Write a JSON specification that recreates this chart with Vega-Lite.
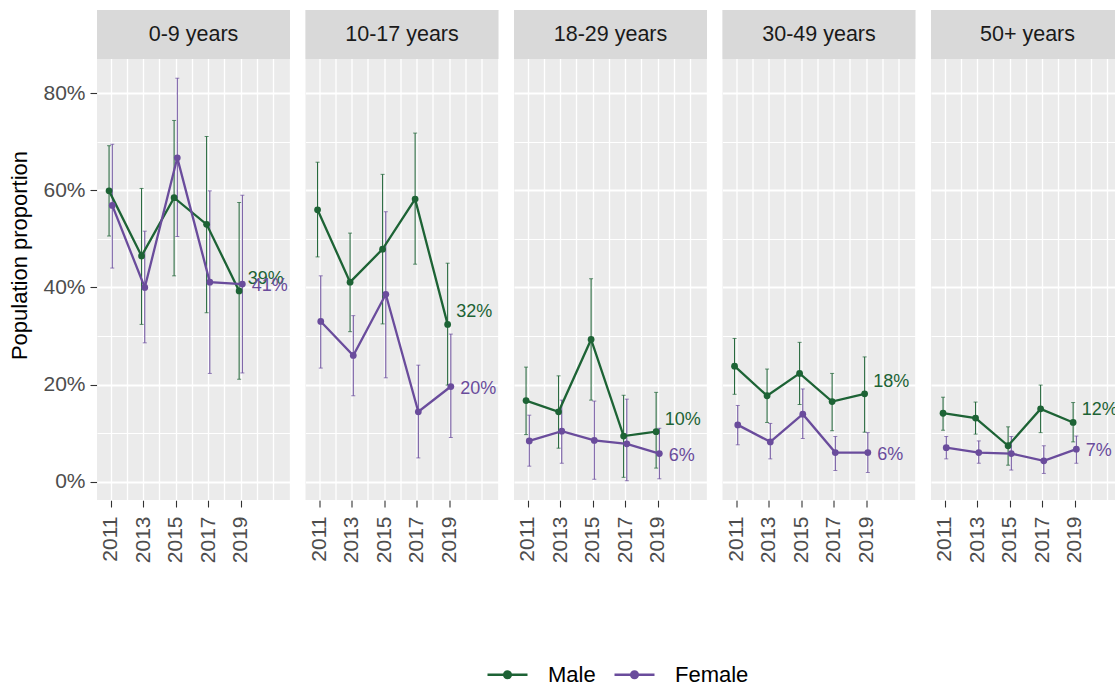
{
  "$schema": "https://vega.github.io/schema/vega-lite/v6.json",
  "padding": {"left": 8, "top": 10, "right": -9, "bottom": 0},
  "config": {
    "font": "Liberation Sans",
    "view": {"fill": "#EBEBEB", "stroke": null},
    "axis": {
      "domain": false,
      "grid": true,
      "labelFont": "Liberation Sans",
      "labelFontSize": 21,
      "labelColor": "#4D4D4D",
      "tickColor": "#333333",
      "tickSize": 7,
      "tickWidth": 1.1,
      "gridColor": "#FFFFFF",
      "titleFont": "Liberation Sans",
      "titleFontSize": 22,
      "titleFontWeight": "normal",
      "titleColor": "#000000"
    },
    "legend": {
      "labelFont": "Liberation Sans",
      "labelFontSize": 22,
      "labelColor": "#000000"
    }
  },
  "data": {
    "values": [
      {"group": "0-9 years", "sex": "Male", "year": 2011, "value": 0.599, "lo": 0.506, "hi": 0.692},
      {"group": "0-9 years", "sex": "Male", "year": 2013, "value": 0.465, "lo": 0.324, "hi": 0.604},
      {"group": "0-9 years", "sex": "Male", "year": 2015, "value": 0.585, "lo": 0.424, "hi": 0.744},
      {"group": "0-9 years", "sex": "Male", "year": 2017, "value": 0.530, "lo": 0.348, "hi": 0.711},
      {"group": "0-9 years", "sex": "Male", "year": 2019, "value": 0.393, "lo": 0.211, "hi": 0.575},
      {"group": "0-9 years", "sex": "Female", "year": 2011, "value": 0.569, "lo": 0.440, "hi": 0.695},
      {"group": "0-9 years", "sex": "Female", "year": 2013, "value": 0.400, "lo": 0.286, "hi": 0.516},
      {"group": "0-9 years", "sex": "Female", "year": 2015, "value": 0.667, "lo": 0.505, "hi": 0.831},
      {"group": "0-9 years", "sex": "Female", "year": 2017, "value": 0.411, "lo": 0.223, "hi": 0.599},
      {"group": "0-9 years", "sex": "Female", "year": 2019, "value": 0.407, "lo": 0.224, "hi": 0.590},
      {"group": "10-17 years", "sex": "Male", "year": 2011, "value": 0.560, "lo": 0.463, "hi": 0.658},
      {"group": "10-17 years", "sex": "Male", "year": 2013, "value": 0.411, "lo": 0.309, "hi": 0.512},
      {"group": "10-17 years", "sex": "Male", "year": 2015, "value": 0.479, "lo": 0.325, "hi": 0.633},
      {"group": "10-17 years", "sex": "Male", "year": 2017, "value": 0.582, "lo": 0.448, "hi": 0.718},
      {"group": "10-17 years", "sex": "Male", "year": 2019, "value": 0.324, "lo": 0.199, "hi": 0.450},
      {"group": "10-17 years", "sex": "Female", "year": 2011, "value": 0.330, "lo": 0.234, "hi": 0.424},
      {"group": "10-17 years", "sex": "Female", "year": 2013, "value": 0.260, "lo": 0.177, "hi": 0.342},
      {"group": "10-17 years", "sex": "Female", "year": 2015, "value": 0.386, "lo": 0.214, "hi": 0.556},
      {"group": "10-17 years", "sex": "Female", "year": 2017, "value": 0.144, "lo": 0.049, "hi": 0.240},
      {"group": "10-17 years", "sex": "Female", "year": 2019, "value": 0.196, "lo": 0.091, "hi": 0.304},
      {"group": "18-29 years", "sex": "Male", "year": 2011, "value": 0.167, "lo": 0.097, "hi": 0.236},
      {"group": "18-29 years", "sex": "Male", "year": 2013, "value": 0.144, "lo": 0.069, "hi": 0.218},
      {"group": "18-29 years", "sex": "Male", "year": 2015, "value": 0.293, "lo": 0.168, "hi": 0.418},
      {"group": "18-29 years", "sex": "Male", "year": 2017, "value": 0.094, "lo": 0.009, "hi": 0.178},
      {"group": "18-29 years", "sex": "Male", "year": 2019, "value": 0.103, "lo": 0.028, "hi": 0.184},
      {"group": "18-29 years", "sex": "Female", "year": 2011, "value": 0.084, "lo": 0.032, "hi": 0.137},
      {"group": "18-29 years", "sex": "Female", "year": 2013, "value": 0.104, "lo": 0.038, "hi": 0.168},
      {"group": "18-29 years", "sex": "Female", "year": 2015, "value": 0.085, "lo": 0.005, "hi": 0.166},
      {"group": "18-29 years", "sex": "Female", "year": 2017, "value": 0.078, "lo": 0.002, "hi": 0.170},
      {"group": "18-29 years", "sex": "Female", "year": 2019, "value": 0.058, "lo": 0.006, "hi": 0.110},
      {"group": "30-49 years", "sex": "Male", "year": 2011, "value": 0.238, "lo": 0.180, "hi": 0.295},
      {"group": "30-49 years", "sex": "Male", "year": 2013, "value": 0.177, "lo": 0.122, "hi": 0.232},
      {"group": "30-49 years", "sex": "Male", "year": 2015, "value": 0.223, "lo": 0.159, "hi": 0.287},
      {"group": "30-49 years", "sex": "Male", "year": 2017, "value": 0.165, "lo": 0.105, "hi": 0.223},
      {"group": "30-49 years", "sex": "Male", "year": 2019, "value": 0.181, "lo": 0.102, "hi": 0.257},
      {"group": "30-49 years", "sex": "Female", "year": 2011, "value": 0.117, "lo": 0.076, "hi": 0.157},
      {"group": "30-49 years", "sex": "Female", "year": 2013, "value": 0.082, "lo": 0.047, "hi": 0.120},
      {"group": "30-49 years", "sex": "Female", "year": 2015, "value": 0.139, "lo": 0.089, "hi": 0.191},
      {"group": "30-49 years", "sex": "Female", "year": 2017, "value": 0.060, "lo": 0.023, "hi": 0.093},
      {"group": "30-49 years", "sex": "Female", "year": 2019, "value": 0.060, "lo": 0.019, "hi": 0.101},
      {"group": "50+ years", "sex": "Male", "year": 2011, "value": 0.141, "lo": 0.106, "hi": 0.174},
      {"group": "50+ years", "sex": "Male", "year": 2013, "value": 0.131, "lo": 0.098, "hi": 0.164},
      {"group": "50+ years", "sex": "Male", "year": 2015, "value": 0.074, "lo": 0.034, "hi": 0.113},
      {"group": "50+ years", "sex": "Male", "year": 2017, "value": 0.150, "lo": 0.101, "hi": 0.199},
      {"group": "50+ years", "sex": "Male", "year": 2019, "value": 0.122, "lo": 0.082, "hi": 0.163},
      {"group": "50+ years", "sex": "Female", "year": 2011, "value": 0.070, "lo": 0.047, "hi": 0.093},
      {"group": "50+ years", "sex": "Female", "year": 2013, "value": 0.060, "lo": 0.038, "hi": 0.084},
      {"group": "50+ years", "sex": "Female", "year": 2015, "value": 0.058, "lo": 0.024, "hi": 0.093},
      {"group": "50+ years", "sex": "Female", "year": 2017, "value": 0.043, "lo": 0.017, "hi": 0.074},
      {"group": "50+ years", "sex": "Female", "year": 2019, "value": 0.067, "lo": 0.038, "hi": 0.094}
    ]
  },
  "facet": {
    "column": {
      "field": "group",
      "type": "nominal",
      "sort": ["0-9 years", "10-17 years", "18-29 years", "30-49 years", "50+ years"],
      "header": {"title": null, "labels": false}
    }
  },
  "spacing": 15.5,
  "spec": {
    "width": 193,
    "height": 490,
    "encoding": {
      "x": {
        "field": "year",
        "type": "quantitative",
        "scale": {"domain": [2010.16, 2022.03], "nice": false, "zero": false},
        "axis": {
          "title": null,
          "grid": true,
          "values": [2011, 2012, 2013, 2014, 2015, 2016, 2017, 2018, 2019, 2020, 2021, 2022],
          "labelExpr": "datum.value % 2 == 1 && datum.value <= 2019 ? datum.value + '' : ''",
          "labelAngle": -90,
          "labelPadding": 9,
          "labelFlush": false,
          "labelOverlap": false,
          "tickOpacity": {"condition": {"test": "datum.value % 2 == 1 && datum.value <= 2019", "value": 1}, "value": 0},
          "gridWidth": 1.3
        }
      },
      "y": {
        "type": "quantitative",
        "scale": {"domain": [-0.0377, 0.9715], "nice": false, "zero": false},
        "axis": {
          "title": "Population proportion",
          "grid": true,
          "values": [0, 0.1, 0.2, 0.3, 0.4, 0.5, 0.6, 0.7, 0.8],
          "labelExpr": "round(datum.value * 10) % 2 == 0 ? format(datum.value, '.0%') : ''",
          "labelPadding": 5,
          "labelOverlap": false,
          "titlePadding": 11,
          "tickOpacity": {"condition": {"test": "round(datum.value * 10) % 2 == 0", "value": 1}, "value": 0},
          "gridWidth": {"condition": {"test": "round(datum.value * 10) % 2 == 0", "value": 2}, "value": 1.1}
        }
      }
    },
    "layer": [
      {
        "transform": [{"filter": "datum.sex == 'Male' && datum.year == 2011"}],
        "mark": {"type": "rect", "color": "#D9D9D9"},
        "encoding": {
          "x": {"datum": 2010.16, "type": "quantitative"},
          "x2": {"datum": 2022.03},
          "y": {"datum": 0.8706, "type": "quantitative"},
          "y2": {"datum": 0.9715}
        }
      },
      {
        "transform": [{"filter": "datum.sex == 'Male' && datum.year == 2011"}],
        "mark": {"type": "text", "fontSize": 21.5, "color": "#1A1A1A", "baseline": "middle", "align": "center"},
        "encoding": {
          "x": {"datum": 2016.095, "type": "quantitative"},
          "y": {"datum": 0.921, "type": "quantitative"},
          "text": {"field": "group"}
        }
      },
      {
        "transform": [{"filter": "datum.sex == 'Male'"}],
        "mark": {"type": "rule", "color": "#1D6335", "strokeWidth": 1, "xOffset": -1.6},
        "encoding": {"x": {"field": "year", "type": "quantitative"}, "y": {"field": "lo", "type": "quantitative"}, "y2": {"field": "hi"}}
      },
      {
        "transform": [{"filter": "datum.sex == 'Male'"}],
        "mark": {"type": "tick", "orient": "horizontal", "color": "#1D6335", "size": 4, "thickness": 1, "xOffset": -1.6},
        "encoding": {"x": {"field": "year", "type": "quantitative"}, "y": {"field": "lo", "type": "quantitative"}}
      },
      {
        "transform": [{"filter": "datum.sex == 'Male'"}],
        "mark": {"type": "tick", "orient": "horizontal", "color": "#1D6335", "size": 4, "thickness": 1, "xOffset": -1.6},
        "encoding": {"x": {"field": "year", "type": "quantitative"}, "y": {"field": "hi", "type": "quantitative"}}
      },
      {
        "transform": [{"filter": "datum.sex == 'Female'"}],
        "mark": {"type": "rule", "color": "#6A4C9C", "strokeWidth": 1, "xOffset": 1.6},
        "encoding": {"x": {"field": "year", "type": "quantitative"}, "y": {"field": "lo", "type": "quantitative"}, "y2": {"field": "hi"}}
      },
      {
        "transform": [{"filter": "datum.sex == 'Female'"}],
        "mark": {"type": "tick", "orient": "horizontal", "color": "#6A4C9C", "size": 4, "thickness": 1, "xOffset": 1.6},
        "encoding": {"x": {"field": "year", "type": "quantitative"}, "y": {"field": "lo", "type": "quantitative"}}
      },
      {
        "transform": [{"filter": "datum.sex == 'Female'"}],
        "mark": {"type": "tick", "orient": "horizontal", "color": "#6A4C9C", "size": 4, "thickness": 1, "xOffset": 1.6},
        "encoding": {"x": {"field": "year", "type": "quantitative"}, "y": {"field": "hi", "type": "quantitative"}}
      },
      {
        "transform": [{"filter": "datum.sex == 'Male'"}],
        "mark": {"type": "line", "strokeWidth": 2.3, "xOffset": -1.6},
        "encoding": {
          "x": {"field": "year", "type": "quantitative"},
          "y": {"field": "value", "type": "quantitative"},
          "color": {
            "field": "sex", "type": "nominal",
            "scale": {"domain": ["Male", "Female"], "range": ["#1D6335", "#6A4C9C"]},
            "legend": {
              "title": null, "orient": "none", "direction": "horizontal",
              "legendX": 389, "legendY": 643,
              "symbolType": "M-1,0H1M-0.17,0A0.17,0.17,0,1,1,0.17,0A0.17,0.17,0,1,1,-0.17,0Z",
              "symbolSize": 1600, "symbolStrokeWidth": 2.3, "labelOffset": 19, "columnPadding": 13,
              "encode": {"symbols": {"update": {"fill": {"scale": "color", "field": "value"}, "stroke": {"scale": "color", "field": "value"}, "opacity": {"value": 1}}}}
            }
          }
        }
      },
      {
        "transform": [{"filter": "datum.sex == 'Female'"}],
        "mark": {"type": "line", "strokeWidth": 2.3, "xOffset": 1.6},
        "encoding": {
          "x": {"field": "year", "type": "quantitative"},
          "y": {"field": "value", "type": "quantitative"},
          "color": {"field": "sex", "type": "nominal"}
        }
      },
      {
        "transform": [{"filter": "datum.sex == 'Male'"}],
        "mark": {"type": "circle", "size": 46, "opacity": 1, "color": "#1D6335", "xOffset": -1.6},
        "encoding": {"x": {"field": "year", "type": "quantitative"}, "y": {"field": "value", "type": "quantitative"}}
      },
      {
        "transform": [{"filter": "datum.sex == 'Female'"}],
        "mark": {"type": "circle", "size": 46, "opacity": 1, "color": "#6A4C9C", "xOffset": 1.6},
        "encoding": {"x": {"field": "year", "type": "quantitative"}, "y": {"field": "value", "type": "quantitative"}}
      },
      {
        "transform": [{"filter": "datum.sex == 'Male' && datum.year == 2019"}],
        "mark": {"type": "text", "align": "left", "baseline": "middle", "dx": 7, "dy": -12, "fontSize": 18, "color": "#1D6335"},
        "encoding": {"x": {"field": "year", "type": "quantitative"}, "y": {"field": "value", "type": "quantitative"}, "text": {"field": "value", "type": "quantitative", "format": ".0%"}}
      },
      {
        "transform": [{"filter": "datum.sex == 'Female' && datum.year == 2019"}],
        "mark": {"type": "text", "align": "left", "baseline": "middle", "dx": 11, "dy": 2, "fontSize": 18, "color": "#6A4C9C"},
        "encoding": {"x": {"field": "year", "type": "quantitative"}, "y": {"field": "value", "type": "quantitative"}, "text": {"field": "value", "type": "quantitative", "format": ".0%"}}
      }
    ]
  }
}
